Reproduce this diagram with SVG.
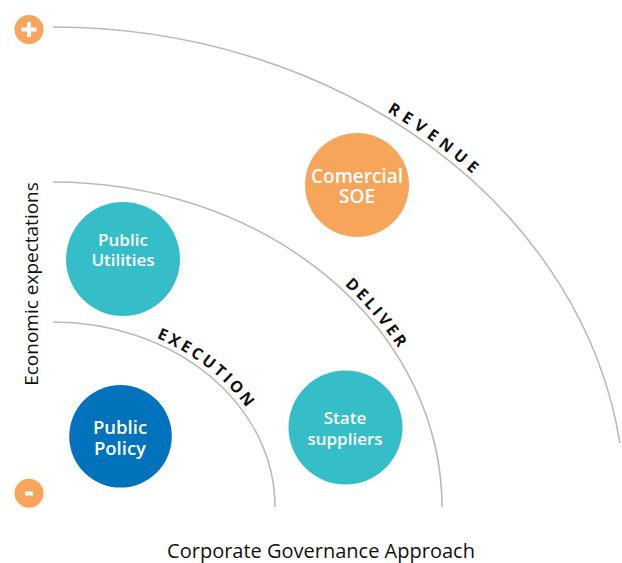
<svg xmlns="http://www.w3.org/2000/svg" width="622" height="563" viewBox="0 0 622 563">
  <style>
    .arc { fill: none; stroke: #BBBBB6; stroke-width: 1.6; }
    .arclabel { font-family: "Open Sans", "Noto Sans", sans-serif; font-weight: 700; font-size: 16px; fill: #111111; }
    .nodelabel { font-family: "Open Sans", "Noto Sans", sans-serif; font-weight: 600; fill: #FFFFFF; text-anchor: middle; }
    .axis { font-family: "Open Sans", "Noto Sans", sans-serif; font-weight: 400; fill: #111111; text-anchor: middle; }
    .teal { fill: #35BEC8; }
    .orange { fill: #F6A55B; }
    .blue { fill: #0073BC; }
  </style>
  <defs>
    <path id="p-revenue" d="M345.8,89.1 A577,485 0 0 1 498.2,198.5"/>
    <path id="p-deliver" d="M273.3,233.4 A394,330 0 0 1 431.8,416"/>
    <path id="p-execution" d="M119.4,325.3 A227,190 0 0 1 258.7,426.7"/>
  </defs>

  <g id="connectors">
    <path class="arc" d="M53,27 A572,480 0 0 1 619.9,443"/>
    <path class="arc" d="M53,182 A389,325 0 0 1 442,507"/>
    <path class="arc" d="M53,322 A222,185 0 0 1 275,507"/>
  </g>

  <g id="arc-labels">
    <text class="arclabel" letter-spacing="5.5"><textPath href="#p-revenue" startOffset="54.5%" text-anchor="middle">REVENUE</textPath></text>
    <text class="arclabel" letter-spacing="3"><textPath href="#p-deliver" startOffset="53%" text-anchor="middle">DELIVER</textPath></text>
    <text class="arclabel" letter-spacing="3"><textPath href="#p-execution" startOffset="55.5%" text-anchor="middle">EXECUTION</textPath></text>
  </g>

  <g id="plus">
    <circle class="orange" cx="29" cy="29.5" r="14.5"/>
    <rect x="21.5" y="27.5" width="15" height="4" fill="#FFFFFF"/>
    <rect x="27" y="22" width="4" height="15" fill="#FFFFFF"/>
  </g>
  <g id="minus">
    <circle class="orange" cx="29" cy="493.3" r="14.5"/>
    <rect x="25" y="491.5" width="8" height="4" fill="#FFFFFF"/>
  </g>

  <g id="node-public-utilities">
    <circle class="teal" cx="123" cy="259" r="57"/>
    <text class="nodelabel" font-size="17" x="123" y="246">Public</text>
    <text class="nodelabel" font-size="17" x="123" y="266">Utilities</text>
  </g>
  <g id="node-comercial-soe">
    <circle class="orange" cx="357" cy="185" r="52"/>
    <text class="nodelabel" font-size="19" x="357" y="182.5">Comercial</text>
    <text class="nodelabel" font-size="19" x="357" y="202.5">SOE</text>
  </g>
  <g id="node-public-policy">
    <circle class="blue" cx="120.5" cy="436.3" r="51.3"/>
    <text class="nodelabel" font-size="18.5" x="120" y="434">Public</text>
    <text class="nodelabel" font-size="18.5" x="120" y="454.5">Policy</text>
  </g>
  <g id="node-state-suppliers">
    <circle class="teal" cx="345.5" cy="427.5" r="57"/>
    <text class="nodelabel" font-size="17" x="345" y="424">State</text>
    <text class="nodelabel" font-size="17" x="345" y="444.5">suppliers</text>
  </g>

  <g id="axes">
    <text class="axis" font-size="20" x="321" y="557.5">Corporate Governance Approach</text>
    <text class="axis" font-size="19" transform="translate(37.5,284) rotate(-90)" x="0" y="0">Economic expectations</text>
  </g>
</svg>
